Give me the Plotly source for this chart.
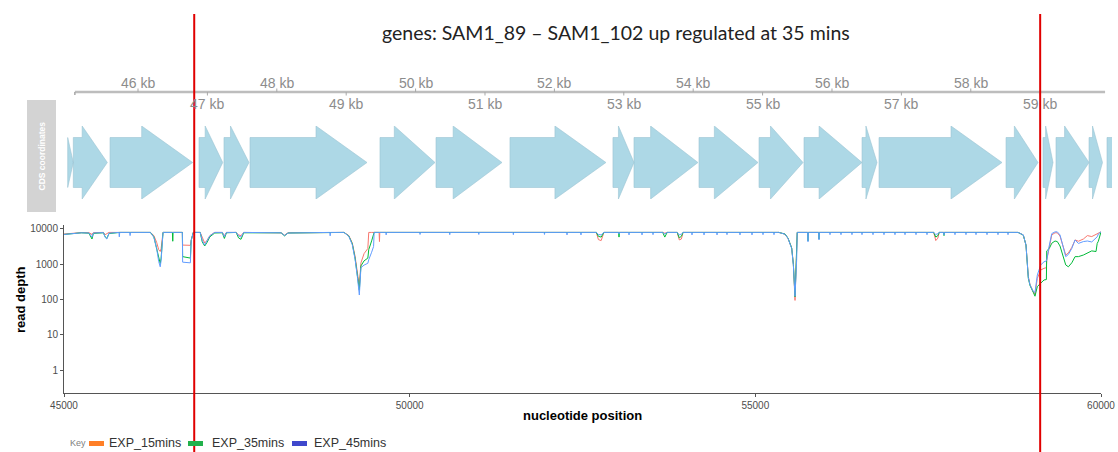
import plotly.graph_objects as go

W, H = 1118, 452

# ---------------- data ----------------
TITLE = "genes: SAM1_89 \u2013 SAM1_102 up regulated at 35 mins"

# CDS features (bp)
GENE_START = [44987, 45068, 45597, 46879, 47239, 47614, 49487, 50294, 51360, 52844, 53147,
              54084, 54949, 55597, 56433, 56678, 58508, 59041, 59228, 59704, 59963]
GENE_END = [45068, 45558, 46788, 47221, 47599, 49300, 50280, 51245, 52743, 53147, 54069,
            54934, 55583, 56433, 56649, 58450, 58969, 59185, 59704, 59898, 60300]

KB_TICKS = [46000, 47000, 48000, 49000, 50000, 51000, 52000, 53000, 54000, 55000, 56000,
            57000, 58000, 59000]
KB_LABELS = ["46 kb", "47 kb", "48 kb", "49 kb", "50 kb", "51 kb", "52 kb", "53 kb", "54 kb",
             "55 kb", "56 kb", "57 kb", "58 kb", "59 kb"]
KB_AXIS_SPAN = [45090, 59935]

HIGHLIGHT = [46810, 59000]

SERIES_NAMES = ["EXP_15mins", "EXP_35mins", "EXP_45mins"]

POS = [
    45000, 45100, 45250, 45360, 45390, 45405, 45425, 45570, 45595, 45620, 45650,  # A
    45795, 45800, 45806, 45950, 45956, 45962,  # B
    46250, 46300, 46340, 46370, 46392, 46405, 46420, 46432,  # C
    46568, 46573, 46578, 46712, 46716, 46828, 46840, 46870,  # D
    46970, 47000, 47035, 47070, 47110, 47180, 47290, 47320, 47350, 47490,  # E
    47525, 47560, 47600, 48140, 48190, 48240, 48845, 48850, 48855,  # F
    49050, 49120, 49170, 49210, 49245, 49272, 49295, 49340, 49395, 49408, 49450,  # G
    49478, 49486, 49558, 49563, 49568,  # H
    49655, 49660, 49665, 50145, 50150, 50155, 50575, 50580, 50585, 50995, 51000, 51005,  # I
    51495, 51500, 51505, 51945, 51950, 51955, 52271, 52276, 52281, 52473, 52478, 52483,  # J
    52700, 52730, 52770, 52810, 53023, 53028, 53033, 53168,  # K
    53173, 53178, 53356, 53361, 53366, 53515, 53520, 53525, 53660,  # L
    53690, 53725, 53870, 53900, 53930, 53955, 54079, 54084,  # M
    54089, 54253, 54258, 54263, 54441, 54446, 54451, 54585, 54590, 54595,  # N
    54773, 54778, 54783, 54947, 54952, 54957, 55106, 55111, 55116, 55265, 55270, 55275,  # O
    55340, 55430, 55473, 55526, 55550, 55574, 55598, 55606, 55757,  # P
    55762, 55767, 55916, 55921, 55926, 56075, 56080, 56085, 56234,  # Q
    56239, 56244, 56393, 56398, 56403, 56538, 56543, 56548, 56697, 56702, 56707,  # R
    56856, 56861, 56866, 57015, 57020, 57025, 57160, 57165, 57170, 57319, 57324, 57329,  # S
    57478, 57483, 57488, 57580, 57610, 57640, 57660, 57724, 57729, 57734,  # T
    57883, 57888, 57893, 58042, 58047, 58052, 58187, 58192, 58197, 58346, 58351, 58356,  # U
    58505, 58510, 58515, 58650, 58655, 58660,  # V
    58800, 58876, 58915, 58949, 58973, 59021, 59045, 59079, 59128, 59176,  # W
    59210, 59215, 59253, 59288, 59335, 59368, 59407, 59455, 59490, 59528,  # X
    59577, 59625, 59673, 59745, 59803, 59866, 59928, 59945, 59962, 59990, 60000,  # Y
]

EXP15 = [
    7200, 7500, 7900, 7900, 7200, 7000, 7900, 8000, 6900, 7300, 8000,  # A
    8000, 8000, 8000, 8000, 8000, 8000,  # B
    8000, 6500, 4200, 2600, 2300, 2800, 6000, 8000,  # C
    8000, 8000, 8000, 8000, 3500, 3450, 4800, 8000,  # D
    8000, 5500, 4000, 4800, 6500, 8000, 8000, 6500, 8000, 8000,  # E
    6800, 6500, 8000, 7800, 6700, 7800, 8000, 8000, 8000,  # F
    8000, 6500, 4000, 1700, 600, 240, 1100, 2000, 2800, 8000, 8000,  # G
    8000, 8000, 8000, 4400, 8000,  # H
    8000, 8000, 8000, 8000, 8000, 8000, 8000, 8000, 8000, 8000, 8000, 8000,  # I
    8000, 8000, 8000, 8000, 8000, 8000, 8000, 8000, 8000, 8000, 8000, 8000,  # J
    8000, 5000, 4700, 8000, 8000, 8000, 8000, 8000,  # K
    8000, 8000, 8000, 8000, 8000, 8000, 8000, 8000, 8000,  # L
    7600, 8000, 8000, 4900, 5200, 8000, 8000, 8000,  # M
    8000, 8000, 8000, 8000, 8000, 8000, 8000, 8000, 8000, 8000,  # N
    8000, 8000, 8000, 8000, 8000, 8000, 8000, 8000, 8000, 8000, 8000, 8000,  # O
    8000, 7100, 5400, 2900, 1000, 95, 1500, 8000, 8000,  # P
    8000, 8000, 8000, 8000, 8000, 8000, 8000, 8000, 8000,  # Q
    8000, 8000, 8000, 8000, 8000, 8000, 8000, 8000, 8000, 8000, 8000,  # R
    8000, 8000, 8000, 8000, 8000, 8000, 8000, 8000, 8000, 8000, 8000, 8000,  # S
    8000, 8000, 8000, 8000, 4700, 5500, 8000, 8000, 8000, 8000,  # T
    8000, 8000, 8000, 8000, 8000, 8000, 8000, 8000, 8000, 8000, 8000, 8000,  # U
    8000, 8000, 8000, 8000, 8000, 8000,  # V
    8000, 6800, 3500, 450, 270, 165, 140, 400, 690, 770,  # W
    800, 1320, 3150, 6800, 7800, 7800, 6300, 2800, 1830, 2100,  # X
    3000, 4900, 4500, 5200, 6500, 6100, 7100, 7500, 7800, 8300, 8300,  # Y
]

EXP35 = [
    7000, 7400, 7800, 7600, 5600, 5200, 7500, 7800, 6000, 5400, 7400,  # A
    8000, 8000, 8000, 8000, 8000, 8000,  # B
    8000, 6000, 3000, 1500, 1050, 1500, 4500, 8000,  # C
    8000, 4500, 8000, 8000, 1650, 1500, 4800, 8000,  # D
    8000, 4300, 3300, 4200, 6000, 7700, 7800, 5400, 7800, 8000,  # E
    5600, 5100, 7800, 7800, 6400, 7700, 8000, 8000, 8000,  # F
    8000, 6300, 3800, 1500, 500, 185, 900, 1250, 1500, 2600, 4600,  # G
    8000, 8000, 8000, 8000, 8000,  # H
    8000, 8000, 8000, 8000, 8000, 8000, 8000, 8000, 8000, 8000, 8000, 8000,  # I
    8000, 8000, 8000, 8000, 8000, 8000, 8000, 8000, 8000, 8000, 8000, 8000,  # J
    8000, 6200, 5900, 8000, 8000, 5900, 8000, 8000,  # K
    8000, 8000, 8000, 8000, 8000, 8000, 8000, 8000, 8000,  # L
    5900, 8000, 8000, 5600, 6200, 8000, 8000, 8000,  # M
    8000, 8000, 8000, 8000, 8000, 8000, 8000, 8000, 8000, 8000,  # N
    8000, 8000, 8000, 8000, 8000, 8000, 8000, 8000, 8000, 8000, 8000, 8000,  # O
    8000, 7200, 5500, 2900, 1000, 120, 1400, 8000, 8000,  # P
    4600, 8000, 8000, 5200, 8000, 8000, 8000, 8000, 8000,  # Q
    8000, 8000, 8000, 8000, 8000, 8000, 8000, 8000, 8000, 8000, 8000,  # R
    8000, 8000, 8000, 8000, 8000, 8000, 8000, 8000, 8000, 8000, 8000, 8000,  # S
    8000, 8000, 8000, 8000, 5900, 6500, 8000, 8000, 6500, 8000,  # T
    8000, 8000, 8000, 8000, 8000, 8000, 8000, 8000, 8000, 8000, 8000, 8000,  # U
    8000, 8000, 8000, 8000, 8000, 8000,  # V
    8000, 6700, 3500, 400, 250, 160, 125, 235, 290, 360,  # W
    370, 2400, 2840, 3950, 4570, 4400, 3300, 1480, 960, 850,  # X
    1100, 1650, 1650, 1830, 2050, 2400, 2300, 3900, 4500, 8300, 8300,  # Y
]

EXP45 = [
    7000, 7400, 7800, 7700, 6200, 5900, 7700, 7900, 5800, 5200, 7600,  # A
    8000, 6000, 8000, 8000, 6500, 8000,  # B
    8000, 5800, 2800, 1200, 850, 1300, 4000, 8000,  # C
    8000, 8000, 8000, 8000, 1150, 1100, 4700, 8000,  # D
    8000, 4700, 3500, 4600, 6400, 8000, 8000, 6000, 8000, 8000,  # E
    6400, 5900, 8000, 7800, 6500, 7700, 8000, 6400, 8000,  # F
    8000, 6200, 3600, 1400, 420, 135, 800, 950, 1070, 1350, 2200,  # G
    3200, 8000, 8000, 8000, 8000,  # H
    8000, 6800, 8000, 8000, 7000, 8000, 8000, 6900, 8000, 8000, 7000, 8000,  # I
    8000, 6900, 8000, 8000, 7000, 8000, 8000, 6800, 8000, 8000, 6800, 8000,  # J
    8000, 7000, 6800, 8000, 8000, 7200, 8000, 8000,  # K
    6800, 8000, 8000, 6800, 8000, 8000, 6900, 8000, 8000,  # L
    7200, 8000, 8000, 6800, 7200, 8000, 8000, 6800,  # M
    8000, 8000, 6800, 8000, 8000, 6800, 8000, 8000, 6900, 8000,  # N
    8000, 6800, 8000, 8000, 6800, 8000, 8000, 6900, 8000, 8000, 6900, 8000,  # O
    8000, 7100, 5400, 2800, 950, 125, 1400, 8000, 8000,  # P
    4350, 8000, 8000, 4900, 8000, 8000, 6900, 8000, 8000,  # Q
    6900, 8000, 8000, 6900, 8000, 8000, 6900, 8000, 8000, 6900, 8000,  # R
    8000, 6900, 8000, 8000, 6900, 8000, 8000, 6900, 8000, 8000, 6900, 8000,  # S
    8000, 6900, 8000, 8000, 7000, 7400, 8000, 8000, 6800, 8000,  # T
    8000, 6900, 8000, 8000, 6900, 8000, 8000, 6900, 8000, 8000, 6900, 8000,  # U
    8000, 6900, 8000, 8000, 6900, 8000,  # V
    8000, 6800, 3500, 420, 260, 170, 160, 500, 960, 1180,  # W
    1250, 1320, 3500, 7400, 8300, 8300, 6800, 2840, 1650, 1900,  # X
    2800, 4900, 3900, 4400, 4570, 4300, 5450, 6000, 7200, 8300, 8300,  # Y
]

assert len(POS) == len(EXP15) == len(EXP35) == len(EXP45)
assert len(GENE_START) == len(GENE_END)

# ---------------- styling ----------------
LINE_COLORS = ["#F8766D", "#00BA38", "#619CFF"]
KEY_COLORS = ["#FF7F27", "#22B14C", "#3F48CC"]
FONT = "Liberation Sans, Arial, sans-serif"


def px(x):
    return x / W


def py(y):
    return (H - y) / H


fig = go.Figure()

# read-depth lines
for name, vals, col in zip(SERIES_NAMES, [EXP15, EXP35, EXP45], LINE_COLORS):
    fig.add_trace(go.Scatter(x=POS, y=vals, mode="lines", name=name,
                             line=dict(color=col, width=1), showlegend=False,
                             xaxis="x", yaxis="y"))

# gene arrows
BODY = 0.685
gx, gy = [], []
for s, e in zip(GENE_START, GENE_END):
    L = e - s
    if L < 100:
        xs = [s, e, s, s]
        ys = [-BODY, 0, BODY, -BODY]
    else:
        head = min(0.74 * L, 735)
        hs = e - head
        xs = [s, hs, hs, e, hs, hs, s, s]
        ys = [-BODY, -BODY, -1, 0, 1, BODY, BODY, -BODY]
    gx += xs + [None]
    gy += ys + [None]
fig.add_trace(go.Scatter(x=gx, y=gy, mode="lines", fill="toself",
                         fillcolor="#ADD8E6", line=dict(color="#9cc4d3", width=0.6),
                         showlegend=False, hoverinfo="skip", xaxis="x2", yaxis="y2"))

shapes = []
annotations = []


def note(x, y, text, size, color, family=FONT, xref="paper", xanchor="center", angle=0):
    annotations.append(dict(x=x, y=y, xref=xref, yref="paper", text=text, showarrow=False,
                            xanchor=xanchor, yanchor="middle", textangle=angle,
                            font=dict(family=family, size=size, color=color)))


# genome axis (kb track)
axis_y = py(92)
shapes.append(dict(type="line", xref="x2", yref="paper", x0=KB_AXIS_SPAN[0], x1=KB_AXIS_SPAN[1],
                   y0=axis_y, y1=axis_y, line=dict(color="#BDBDBD", width=2.5)))
shapes.append(dict(type="line", xref="x2", yref="paper", x0=KB_AXIS_SPAN[0], x1=KB_AXIS_SPAN[0],
                   y0=axis_y, y1=py(95), line=dict(color="#A8A8A8", width=1.5)))
for i, (t, lab) in enumerate(zip(KB_TICKS, KB_LABELS)):
    even = (i % 2 == 0)
    shapes.append(dict(type="line", xref="x2", yref="paper", x0=t, x1=t,
                       y0=axis_y, y1=py(88.5) if even else py(95.5),
                       line=dict(color="#A8A8A8", width=1)))
    note(t, py(83) if even else py(104), lab, 14, "#8C8C8C", xref="x2")

# CDS title panel
shapes.append(dict(type="rect", xref="paper", yref="paper", x0=px(27), x1=px(56),
                   y0=py(212), y1=py(100), fillcolor="#D3D3D3", line=dict(width=0), layer="below"))
note(px(41.5), py(156), "<b>CDS coordinates</b>", 8.5, "#FFFFFF", angle=-90)

# highlight lines
for h in HIGHLIGHT:
    shapes.append(dict(type="line", xref="x2", yref="paper", x0=h, x1=h, y0=0, y1=py(14),
                       line=dict(color="#E00000", width=2)))

# title
note(px(616), py(32), TITLE, 19.5, "#222222", family="Lato, Open Sans, sans-serif")

# axis titles
note(px(21), py(300), "<b>read depth</b>", 13, "#000000", angle=-90)
note(px(582), py(415), "<b>nucleotide position</b>", 13, "#000000")

# key
note(px(68), py(443), "Key", 9, "#808080", xanchor="left")
key_sw = [89, 188, 292]
key_tx = [107, 210, 312]
for name, col, sx, tx in zip(SERIES_NAMES, KEY_COLORS, key_sw, key_tx):
    shapes.append(dict(type="rect", xref="paper", yref="paper", x0=px(sx), x1=px(sx + 15),
                       y0=py(446), y1=py(441), fillcolor=col, line=dict(width=0)))
    note(px(tx), py(442.5), name, 12.5, "#333333", xanchor="left")

fig.update_layout(
    width=W, height=H,
    margin=dict(l=0, r=0, t=0, b=0, autoexpand=False),
    paper_bgcolor="white", plot_bgcolor="rgba(0,0,0,0)",
    showlegend=False,
    xaxis=dict(domain=[px(64), px(1101)], range=[45000, 60000], showgrid=False, zeroline=False,
               showline=True, linecolor="#555555", linewidth=1, ticks="outside", ticklen=3,
               tickcolor="#555555", tickvals=[45000, 50000, 55000, 60000],
               ticktext=["45000", "50000", "55000", "60000"], automargin=False,
               tickfont=dict(family=FONT, size=10, color="#4D4D4D"), anchor="y"),
    yaxis=dict(domain=[py(393.3), py(225)], type="log", range=[-0.652, 4.113], showgrid=False,
               zeroline=False, showline=True, linecolor="#555555", linewidth=1, ticks="outside",
               ticklen=3, tickcolor="#555555", tickvals=[1, 10, 100, 1000, 10000],
               ticktext=["1", "10", "100", "1000", "10000"], automargin=False,
               tickfont=dict(family=FONT, size=10, color="#4D4D4D"), anchor="x"),
    xaxis2=dict(domain=[px(60), px(1112)], range=[44876, 60035], visible=False, anchor="y2"),
    yaxis2=dict(domain=[py(199), py(126)], range=[-1, 1], visible=False, anchor="x2"),
    shapes=shapes,
    annotations=annotations,
)

fig.write_html("out.html", config={"displayModeBar": False},
               post_script="document.body.style.margin='0px';document.body.style.overflow='hidden';")
